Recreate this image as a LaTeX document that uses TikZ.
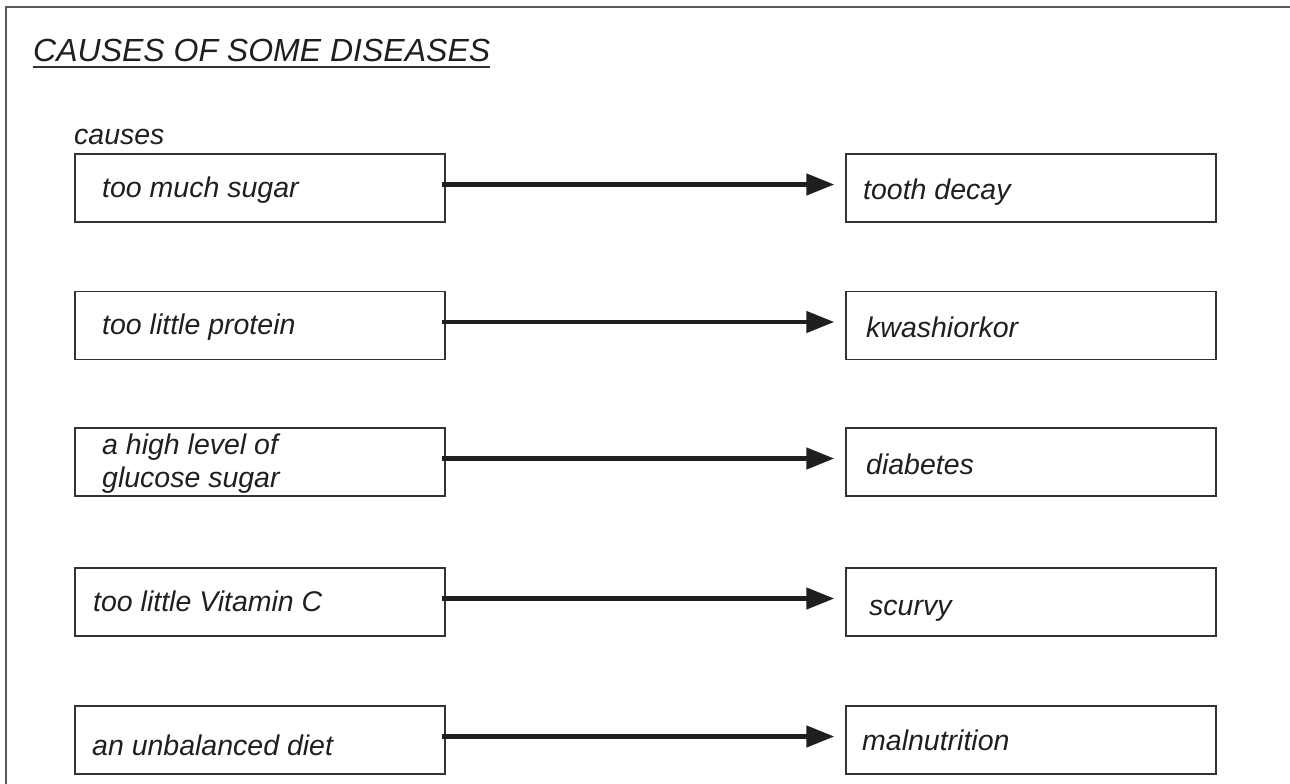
\documentclass[tikz,border=0pt]{standalone}
\usepackage{fontspec}
\setmainfont{Liberation Sans}
\usetikzlibrary{arrows.meta,calc}
\begin{document}
\begin{tikzpicture}[x=1pt,y=-1pt,
  txt/.style={inner sep=0pt,anchor=base west,font=\fontsize{28.5}{34}\selectfont\itshape,text=black!88},
  box/.style={draw=black!80,line width=1.4pt,minimum width=370pt,minimum height=68pt,inner sep=0pt},
  link/.style={line width=4.6pt,draw=black!88,-{Triangle[length=28pt,width=21pt]}},
  frame/.style={draw=black!65,line width=2pt}]
\useasboundingbox (0,0) rectangle (1290,784);
% outer frame (left and top edges only)
\coordinate (fbl) at (6,784);
\coordinate (ftl) at (6,7);
\coordinate (ftr) at (1290,7);
\draw[frame] (fbl) -- (ftl) -- (ftr);
% heading
\node[txt,font=\fontsize{32}{38}\selectfont\itshape] (title) at (33,62) {CAUSES OF SOME DISEASES};
\draw[line width=1.8pt,draw=black!80] ($(title.base west)+(0,5)$) -- ($(title.base east)+(0,5)$);
\node[txt] (causes) at (74,144) {causes};
% cause boxes
\node[box] (c1) at (260,188) {};
\node[box] (c2) at (260,325.5) {};
\node[box] (c3) at (260,462) {};
\node[box] (c4) at (260,602) {};
\node[box] (c5) at (260,740) {};
% disease boxes
\node[box] (d1) at (1031,188) {};
\node[box] (d2) at (1031,325.5) {};
\node[box] (d3) at (1031,462) {};
\node[box] (d4) at (1031,602) {};
\node[box] (d5) at (1031,740) {};
% labels
\node[txt] (t1) at (102,197) {too much sugar};
\node[txt] (t2) at (102,334) {too little protein};
\node[txt] (t3a) at (102,454) {a high level of};
\node[txt] (t3b) at (102,487) {glucose sugar};
\node[txt] (t4) at (93,611) {too little Vitamin C};
\node[txt] (t5) at (92,755) {an unbalanced diet};
\node[txt] (u1) at (863,199) {tooth decay};
\node[txt] (u2) at (866,337) {kwashiorkor};
\node[txt] (u3) at (866,474) {diabetes};
\node[txt] (u4) at (869,615) {scurvy};
\node[txt] (u5) at (862,750) {malnutrition};
% arrows
\foreach \i in {1,...,5}{
  \draw[link] ([xshift=-4pt,yshift=3.5pt]c\i.east) -- ([xshift=-11pt,yshift=3.5pt]d\i.west);
}
\end{tikzpicture}
\end{document}
